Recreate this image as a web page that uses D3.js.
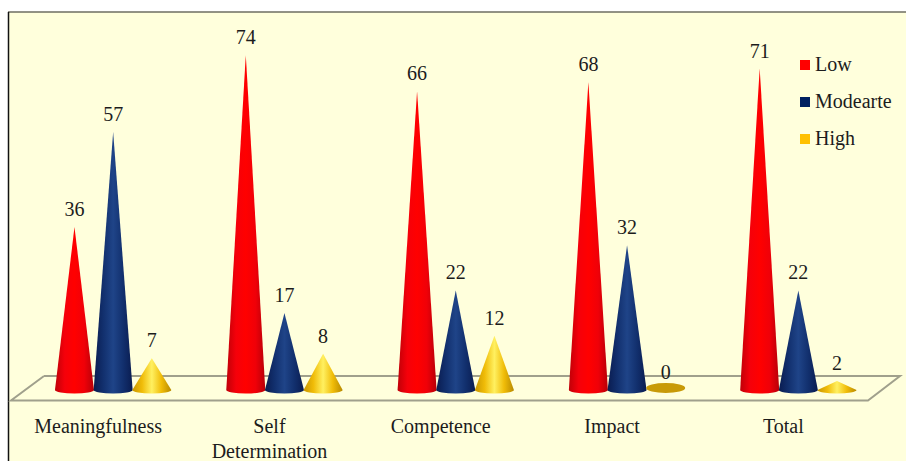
<!DOCTYPE html>
<html>
<head>
<meta charset="utf-8">
<script src="https://cdn.jsdelivr.net/npm/d3@7"></script>
<style>
  html, body { margin: 0; padding: 0; background: #fff; }
  text { font-family: "Liberation Serif", serif; fill: #1c1c1c; }
</style>
</head>
<body>
<svg id="chart" width="906" height="461"></svg>
<script>
const categories = ["Meaningfulness", "Self Determination", "Competence", "Impact", "Total"]
const seriesNames = ["Low", "Modearte", "High"]
const low = [36, 74, 66, 68, 71]
const moderate = [57, 17, 22, 32, 22]
const high = [7, 8, 12, 0, 2]
const seriesValues = [low, moderate, high]

const legendColors = ["#ff0000", "#002060", "#ffc000"]
const gradients = [
  ["#c00008", "#f5000a", "#ff0000", "#f00008", "#b80008"],
  ["#0a1c50", "#12306e", "#1f4488", "#12306e", "#0a1c50"],
  ["#c89600", "#f0bc08", "#fff060", "#f0bc08", "#b88a00"]
]

const svg = d3.select("#chart")

// panel background, drawn first
svg.append("rect").attr("x", 8).attr("y", 12).attr("width", 898).attr("height", 449).attr("fill", "#ffffdc")
svg.append("line").attr("x1", 8).attr("x2", 906).attr("y1", 12).attr("y2", 12).attr("stroke", "#6e6e62").attr("stroke-width", 1.5)
svg.append("line").attr("x1", 8.5).attr("x2", 8.5).attr("y1", 12).attr("y2", 461).attr("stroke", "#111").attr("stroke-width", 1.5)

const defs = svg.append("defs")
gradients.forEach((stops, i) => {
  const g = defs.append("linearGradient").attr("id", "cone" + i)
  stops.forEach((c, j) => g.append("stop").attr("offset", j / (stops.length - 1)).attr("stop-color", c))
})

const x = d3.scaleBand().domain(categories).range([27.5, 884]).padding(0)
const xs = d3.scaleBand().domain(seriesNames).range([-58, 58]).padding(0)
const y = d3.scaleLinear().domain([0, 74]).range([390, 55])

// floor of the 3d plot
const floor = d3.line()([[44, 376], [900, 376], [868, 400.5], [11, 400.5], [44, 376]])
svg.append("path").attr("d", floor).attr("fill", "none").attr("stroke", "#a0a08c").attr("stroke-width", 2)

const halfWidth = 19.5
const baseRy = 3.5

categories.forEach((cat, c) => {
  seriesNames.forEach((name, s) => {
    const v = seriesValues[s][c]
    const cx = x(cat) + x.bandwidth() / 2 + xs(name) + xs.bandwidth() / 2
    const top = y(v)
    const base = y(0)
    const g = svg.append("g")
    if (v === 0) {
      g.append("ellipse").attr("cx", cx).attr("cy", base - 2).attr("rx", halfWidth).attr("ry", 5).attr("fill", "#c89a08")
    } else {
      g.append("path")
        .attr("d", `M${cx - halfWidth},${base} L${cx},${top} L${cx + halfWidth},${base} A${halfWidth},${baseRy} 0 0 1 ${cx - halfWidth},${base} Z`)
        .attr("fill", `url(#cone${s})`)
    }
    svg.append("text")
      .attr("x", cx)
      .attr("y", top - 11)
      .attr("text-anchor", "middle")
      .attr("font-size", 20)
      .text(v)
  })
  const parts = cat === "Self Determination" ? ["Self", "Determination"] : [cat]
  parts.forEach((p, k) => {
    svg.append("text")
      .attr("x", x(cat) + x.bandwidth() / 2 - (parts.length > 1 ? 15 : 15))
      .attr("y", 433 + k * 25)
      .attr("text-anchor", "middle")
      .attr("font-size", 20)
      .text(p)
  })
})

// legend
const legendY = d3.scalePoint().domain(seriesNames).range([65, 139])
seriesNames.forEach((name, s) => {
  svg.append("rect")
    .attr("x", 800).attr("y", legendY(name) - 5)
    .attr("width", 10).attr("height", 10)
    .attr("fill", legendColors[s])
  svg.append("text")
    .attr("x", 815).attr("y", legendY(name) + 6)
    .attr("font-size", 20)
    .text(name)
})
</script>
</body>
</html>
